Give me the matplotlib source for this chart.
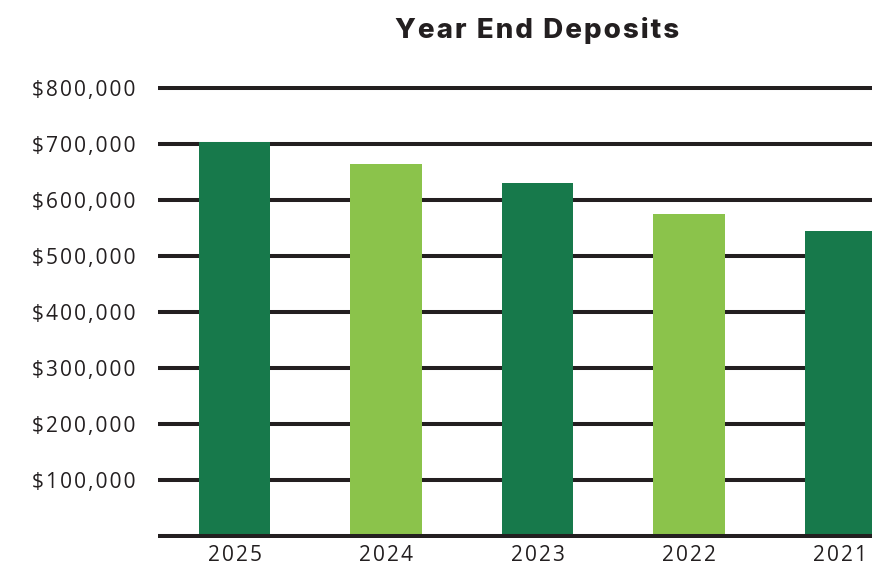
import matplotlib
matplotlib.use("Agg")
import matplotlib.pyplot as plt
from matplotlib.ticker import FuncFormatter

years = ["2025", "2024", "2023", "2022", "2021"]
deposits = [703000, 664000, 630000, 575000, 545000]
bar_colors = ["#17794b", "#8bc34b", "#17794b", "#8bc34b", "#17794b"]
y_ticks = [100000, 200000, 300000, 400000, 500000, 600000, 700000, 800000]
title = "Year End Deposits"

SP = "\u200a"


def track(s, sp=SP):
    return sp.join(s)


W, H = 872, 565
fig = plt.figure(figsize=(W / 100, H / 100), dpi=100)

px = 100000 / 56.0
ylo, yhi = -4000, 804000
bottom_px = 536 + (0 - ylo) / px
top_px = 88 - (yhi - 800000) / px
left_px, right_px = 158, 872
ax = fig.add_axes([left_px / W, 1 - bottom_px / H, (right_px - left_px) / W, (bottom_px - top_px) / H])

x = list(range(len(years)))
ax.bar(x, deposits, width=0.47, color=bar_colors, zorder=3)
ax.set_xlim(-0.505, 4.208)
ax.set_ylim(ylo, yhi)

for v in y_ticks:
    ax.axhline(v, color="#231f20", linewidth=2.9, zorder=2)
ax.axhline(0, color="#231f20", linewidth=2.9, zorder=4)

ax.set_yticks(y_ticks)
ax.yaxis.set_major_formatter(FuncFormatter(lambda v, p: track(f"${int(v):,}")))
ax.set_xticks(x)
ax.set_xticklabels([track(y) for y in years])
ax.tick_params(axis="y", length=0, pad=16, labelsize=15, labelcolor="#231f20")
ax.tick_params(axis="x", length=0, pad=5, labelsize=15, labelcolor="#231f20")
for lab in ax.get_yticklabels() + ax.get_xticklabels():
    lab.set_fontfamily(["Open Sans", "DejaVu Sans"])

for s in ax.spines.values():
    s.set_visible(False)

fig.text(537 / W, 1 - 31 / H, track(title), ha="center", va="center",
         fontsize=20, fontweight=800, family=["Inter", "DejaVu Sans"], color="#231f20")

fig.savefig("out.png", dpi=100)
